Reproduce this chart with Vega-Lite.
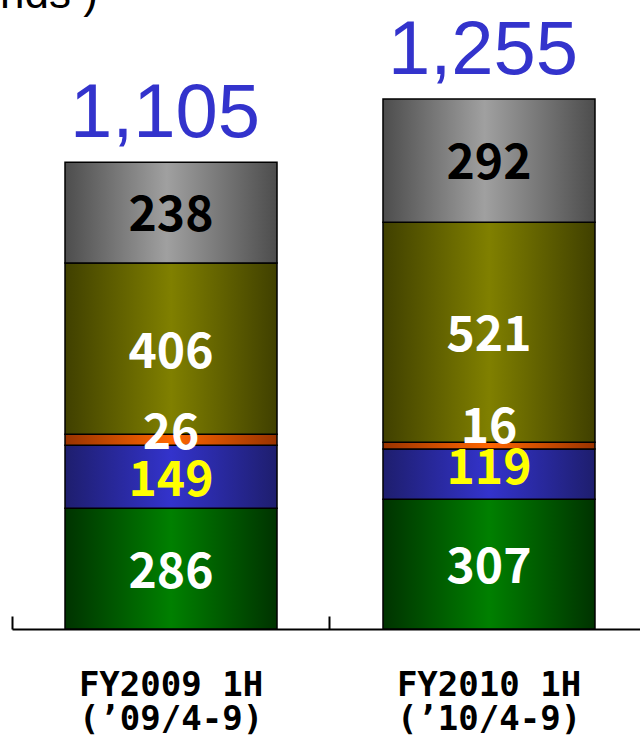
{
  "$schema": "https://vega.github.io/schema/vega-lite/v6.json",
  "width": 640,
  "height": 738,
  "autosize": "none",
  "padding": 0,
  "background": "white",
  "config": {"view": {"stroke": null}},
  "title": {"text": "nds )", "anchor": "start", "frame": "group", "orient": "top", "offset": 0, "baseline": "alphabetic", "dx": 0, "dy": 52,
    "font": "Liberation Sans", "fontSize": 44, "fontWeight": "normal", "color": "black"},
  "data": {"values": [
    {"period": "FY2009 1H", "segment": "Green", "order": 1, "value": 286},
    {"period": "FY2009 1H", "segment": "Blue", "order": 2, "value": 149},
    {"period": "FY2009 1H", "segment": "Orange", "order": 3, "value": 26},
    {"period": "FY2009 1H", "segment": "Olive", "order": 4, "value": 406},
    {"period": "FY2009 1H", "segment": "Gray", "order": 5, "value": 238},
    {"period": "FY2010 1H", "segment": "Green", "order": 1, "value": 307},
    {"period": "FY2010 1H", "segment": "Blue", "order": 2, "value": 119},
    {"period": "FY2010 1H", "segment": "Orange", "order": 3, "value": 16},
    {"period": "FY2010 1H", "segment": "Olive", "order": 4, "value": 521},
    {"period": "FY2010 1H", "segment": "Gray", "order": 5, "value": 292}
  ]},
  "transform": [
    {"stack": "value", "groupby": ["period"], "sort": [{"field": "order", "order": "ascending"}], "as": ["y0", "y1"]},
    {"calculate": "(datum.y0 + datum.y1) / 2", "as": "mid"}
  ],
  "resolve": {"axis": {"x": "independent"}},
  "layer": [
    {
      "transform": [{"filter": "datum.segment === 'Green'"}],
      "mark": {"type": "bar", "stroke": "black", "strokeWidth": 1.5,
        "color": {"gradient": "linear", "x1": 0, "x2": 1, "y1": 0, "y2": 0,
          "stops": [{"offset": 0, "color": "#003300"}, {"offset": 0.5, "color": "#008000"}, {"offset": 1, "color": "#003300"}]}},
      "encoding": {
        "x": {"field": "period", "type": "nominal", "sort": ["FY2009 1H", "FY2010 1H"],
          "scale": {"range": [12, 648], "paddingInner": 0.3333, "paddingOuter": 0.1667},
          "axis": {"orient": "bottom", "offset": -109, "labels": false, "title": null, "grid": false, "domain": true, "domainColor": "black", "domainWidth": 2,
            "ticks": true, "tickColor": "black", "tickWidth": 2, "tickSize": -13, "bandPosition": -0.25}},
        "y": {"field": "y0", "type": "quantitative",
          "scale": {"domain": [0, 1489.5], "range": [629, 0], "nice": false, "zero": false}, "axis": null},
        "y2": {"field": "y1"}
      }
    },
    {
      "transform": [{"filter": "datum.segment === 'Blue'"}],
      "mark": {"type": "bar", "stroke": "black", "strokeWidth": 1.5,
        "color": {"gradient": "linear", "x1": 0, "x2": 1, "y1": 0, "y2": 0,
          "stops": [{"offset": 0, "color": "#1e1e6e"}, {"offset": 0.5, "color": "#3333cc"}, {"offset": 1, "color": "#1e1e6e"}]}},
      "encoding": {
        "x": {"field": "period", "type": "nominal", "sort": ["FY2009 1H", "FY2010 1H"],
          "scale": {"range": [12, 648], "paddingInner": 0.3333, "paddingOuter": 0.1667}, "axis": null},
        "y": {"field": "y0", "type": "quantitative", "scale": {"domain": [0, 1489.5], "range": [629, 0], "nice": false, "zero": false}, "axis": null},
        "y2": {"field": "y1"}
      }
    },
    {
      "transform": [{"filter": "datum.segment === 'Orange'"}],
      "mark": {"type": "bar", "stroke": "black", "strokeWidth": 1.5,
        "color": {"gradient": "linear", "x1": 0, "x2": 1, "y1": 0, "y2": 0,
          "stops": [{"offset": 0, "color": "#993300"}, {"offset": 0.5, "color": "#ff6600"}, {"offset": 1, "color": "#993300"}]}},
      "encoding": {
        "x": {"field": "period", "type": "nominal", "sort": ["FY2009 1H", "FY2010 1H"],
          "scale": {"range": [12, 648], "paddingInner": 0.3333, "paddingOuter": 0.1667}, "axis": null},
        "y": {"field": "y0", "type": "quantitative", "scale": {"domain": [0, 1489.5], "range": [629, 0], "nice": false, "zero": false}, "axis": null},
        "y2": {"field": "y1"}
      }
    },
    {
      "transform": [{"filter": "datum.segment === 'Olive'"}],
      "mark": {"type": "bar", "stroke": "black", "strokeWidth": 1.5,
        "color": {"gradient": "linear", "x1": 0, "x2": 1, "y1": 0, "y2": 0,
          "stops": [{"offset": 0, "color": "#404000"}, {"offset": 0.5, "color": "#808000"}, {"offset": 1, "color": "#404000"}]}},
      "encoding": {
        "x": {"field": "period", "type": "nominal", "sort": ["FY2009 1H", "FY2010 1H"],
          "scale": {"range": [12, 648], "paddingInner": 0.3333, "paddingOuter": 0.1667}, "axis": null},
        "y": {"field": "y0", "type": "quantitative", "scale": {"domain": [0, 1489.5], "range": [629, 0], "nice": false, "zero": false}, "axis": null},
        "y2": {"field": "y1"}
      }
    },
    {
      "transform": [{"filter": "datum.segment === 'Gray'"}],
      "mark": {"type": "bar", "stroke": "black", "strokeWidth": 1.5,
        "color": {"gradient": "linear", "x1": 0, "x2": 1, "y1": 0, "y2": 0,
          "stops": [{"offset": 0, "color": "#4d4d4d"}, {"offset": 0.48, "color": "#a0a0a0"}, {"offset": 1, "color": "#4d4d4d"}]}},
      "encoding": {
        "x": {"field": "period", "type": "nominal", "sort": ["FY2009 1H", "FY2010 1H"],
          "scale": {"range": [12, 648], "paddingInner": 0.3333, "paddingOuter": 0.1667},
          "axis": {"orient": "bottom", "offset": -109, "domain": false, "ticks": false, "grid": false, "title": null, "labelAngle": 0,
            "labelFont": "DejaVu Sans Mono", "labelFontSize": 34, "labelFontWeight": "bold", "labelColor": "black", "labelPadding": 39, "labelLineHeight": 34,
            "labelLimit": 400, "labelOverlap": false,
            "labelExpr": "datum.value === 'FY2009 1H' ? ['FY2009 1H', '(’09/4-9)'] : ['FY2010 1H', '(’10/4-9)']"}},
        "y": {"field": "y0", "type": "quantitative", "scale": {"domain": [0, 1489.5], "range": [629, 0], "nice": false, "zero": false}, "axis": null},
        "y2": {"field": "y1"}
      }
    },
    {
      "transform": [{"filter": "datum.segment === 'Green' || datum.segment === 'Olive'"}],
      "mark": {"type": "text", "font": "Noto Sans CJK JP", "fontWeight": "bold", "fontSize": 48, "color": "white", "baseline": "middle", "dy": 5},
      "encoding": {
        "x": {"field": "period", "type": "nominal", "sort": ["FY2009 1H", "FY2010 1H"],
          "scale": {"range": [12, 648], "paddingInner": 0.3333, "paddingOuter": 0.1667}, "axis": null},
        "y": {"field": "mid", "type": "quantitative", "scale": {"domain": [0, 1489.5], "range": [629, 0], "nice": false, "zero": false}, "axis": null},
        "text": {"field": "value", "type": "quantitative"}
      }
    },
    {
      "transform": [{"filter": "datum.segment === 'Gray'"}],
      "mark": {"type": "text", "font": "Noto Sans CJK JP", "fontWeight": "bold", "fontSize": 48, "color": "black", "baseline": "middle", "dy": 4},
      "encoding": {
        "x": {"field": "period", "type": "nominal", "sort": ["FY2009 1H", "FY2010 1H"],
          "scale": {"range": [12, 648], "paddingInner": 0.3333, "paddingOuter": 0.1667}, "axis": null},
        "y": {"field": "mid", "type": "quantitative", "scale": {"domain": [0, 1489.5], "range": [629, 0], "nice": false, "zero": false}, "axis": null},
        "text": {"field": "value", "type": "quantitative"}
      }
    },
    {
      "transform": [{"filter": "datum.segment === 'Orange' && datum.period === 'FY2009 1H'"}],
      "mark": {"type": "text", "font": "Noto Sans CJK JP", "fontWeight": "bold", "fontSize": 48, "color": "white", "baseline": "middle", "dy": -5},
      "encoding": {
        "x": {"field": "period", "type": "nominal", "sort": ["FY2009 1H", "FY2010 1H"],
          "scale": {"range": [12, 648], "paddingInner": 0.3333, "paddingOuter": 0.1667}, "axis": null},
        "y": {"field": "mid", "type": "quantitative", "scale": {"domain": [0, 1489.5], "range": [629, 0], "nice": false, "zero": false}, "axis": null},
        "text": {"field": "value", "type": "quantitative"}
      }
    },
    {
      "transform": [{"filter": "datum.segment === 'Orange' && datum.period === 'FY2010 1H'"}],
      "mark": {"type": "text", "font": "Noto Sans CJK JP", "fontWeight": "bold", "fontSize": 48, "color": "white", "baseline": "middle", "dy": -17},
      "encoding": {
        "x": {"field": "period", "type": "nominal", "sort": ["FY2009 1H", "FY2010 1H"],
          "scale": {"range": [12, 648], "paddingInner": 0.3333, "paddingOuter": 0.1667}, "axis": null},
        "y": {"field": "mid", "type": "quantitative", "scale": {"domain": [0, 1489.5], "range": [629, 0], "nice": false, "zero": false}, "axis": null},
        "text": {"field": "value", "type": "quantitative"}
      }
    },
    {
      "transform": [{"filter": "datum.segment === 'Blue' && datum.period === 'FY2009 1H'"}],
      "mark": {"type": "text", "font": "Noto Sans CJK JP", "fontWeight": "bold", "fontSize": 48, "color": "#ffff00", "baseline": "middle", "dy": 5},
      "encoding": {
        "x": {"field": "period", "type": "nominal", "sort": ["FY2009 1H", "FY2010 1H"],
          "scale": {"range": [12, 648], "paddingInner": 0.3333, "paddingOuter": 0.1667}, "axis": null},
        "y": {"field": "mid", "type": "quantitative", "scale": {"domain": [0, 1489.5], "range": [629, 0], "nice": false, "zero": false}, "axis": null},
        "text": {"field": "value", "type": "quantitative"}
      }
    },
    {
      "transform": [{"filter": "datum.segment === 'Blue' && datum.period === 'FY2010 1H'"}],
      "mark": {"type": "text", "font": "Noto Sans CJK JP", "fontWeight": "bold", "fontSize": 48, "color": "#ffff00", "baseline": "middle", "dy": -4},
      "encoding": {
        "x": {"field": "period", "type": "nominal", "sort": ["FY2009 1H", "FY2010 1H"],
          "scale": {"range": [12, 648], "paddingInner": 0.3333, "paddingOuter": 0.1667}, "axis": null},
        "y": {"field": "mid", "type": "quantitative", "scale": {"domain": [0, 1489.5], "range": [629, 0], "nice": false, "zero": false}, "axis": null},
        "text": {"field": "value", "type": "quantitative"}
      }
    },
    {
      "transform": [{"aggregate": [{"op": "sum", "field": "value", "as": "total"}], "groupby": ["period"]}],
      "mark": {"type": "text", "font": "Liberation Sans", "fontSize": 76, "color": "#3333cc", "baseline": "alphabetic", "dy": -25, "dx": -6},
      "encoding": {
        "x": {"field": "period", "type": "nominal", "sort": ["FY2009 1H", "FY2010 1H"],
          "scale": {"range": [12, 648], "paddingInner": 0.3333, "paddingOuter": 0.1667}, "axis": null},
        "y": {"field": "total", "type": "quantitative", "scale": {"domain": [0, 1489.5], "range": [629, 0], "nice": false, "zero": false}, "axis": null},
        "text": {"field": "total", "type": "quantitative", "format": ","}
      }
    }
  ]
}
